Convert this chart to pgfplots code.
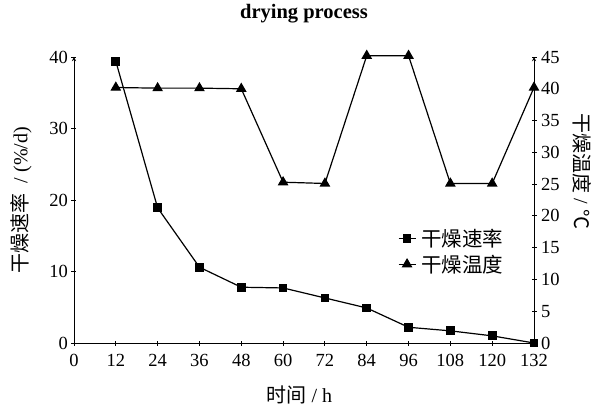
\documentclass[border=0pt]{standalone}
\usepackage{fontspec}
\setmainfont{Liberation Serif}
\newfontfamily\cjk{Noto Sans CJK SC}
\usepackage{pgfplots}
\pgfplotsset{compat=1.18}

% drying rate (left axis) and drying temperature (right axis)
\pgfplotstableread{
t rate
12 39.4
24 18.9
36 10.6
48 7.8
60 7.7
72 6.3
84 4.9
96 2.2
108 1.7
120 1.0
132 0.0
}\ratetable
\pgfplotstableread{
t temp
12 40.2
24 40.1
36 40.1
48 40.0
60 25.3
72 25.1
84 45.2
96 45.2
108 25.1
120 25.1
132 40.2
}\temptable

\begin{document}
\begin{tikzpicture}
\pgfplotsset{
  common/.style={
    width=460pt, height=286pt, scale only axis,
    xmin=0, xmax=132,
    xtick={0,12,...,132},
    clip=false,
    tick align=inside,
    axis line style={-, line width=0.9pt},
    tick style={line width=0.9pt, black},
    major tick length=5pt,
    ticklabel style={font=\fontsize{18.5}{20}\selectfont},
    xticklabel style={yshift=-5pt},
    /pgf/number format/assume math mode=true,
    every axis plot/.append style={line width=1.2pt, black},
  }
}
\begin{axis}[common, name=ax,
  axis x line=bottom, axis y line=left,
  ymin=0, ymax=40, ytick={0,10,...,40},
  xlabel={{\cjk 时间} / h},
  xlabel style={at={(axis description cs:0.49,-0.182)}, anchor=center,
    font=\fontsize{20}{22}\selectfont},
  ylabel={{\cjk 干燥速率}\ \ / (\%/d)},
  ylabel style={at={(axis description cs:-0.115,0.5)}, anchor=center,
    font=\fontsize{20}{22}\selectfont},
  title={\textbf{drying process}},
  title style={at={(axis description cs:0.5,1.129)}, anchor=center,
    font=\fontsize{20.5}{22}\selectfont},
]
\addplot[mark=square*, mark size=3.8pt] table[x=t, y=rate] {\ratetable};
\end{axis}
\begin{axis}[common,
  axis x line=none, axis y line=right,
  ymin=0, ymax=45, ytick={0,5,...,45},
  yticklabel style={xshift=1pt},
  ylabel={{\cjk 干燥温度} / {\cjk ℃}},
  ylabel style={at={(axis description cs:1.104,0.6)}, anchor=center,
    rotate=180, font=\fontsize{20}{22}\selectfont},
  legend style={draw=none, fill=none, at={(0.94,0.41)}, anchor=north east,
    font=\fontsize{20.5}{22}\selectfont\cjk, row sep=3pt,
    inner sep=1pt},
  legend cell align=left,
]
\addlegendimage{black, line width=1.2pt, mark=square*, mark size=3.8pt}
\addlegendentry{\hspace{3pt}干燥速率}
\addplot[mark=triangle*, mark size=5pt] table[x=t, y=temp] {\temptable};
\addlegendentry{\hspace{3pt}干燥温度}
\end{axis}
\pgfresetboundingbox
\path[use as bounding box] ([shift={(-74pt,-64pt)}]ax.south west)
  rectangle ([shift={(62pt,57pt)}]ax.north east);
\end{tikzpicture}
\end{document}
